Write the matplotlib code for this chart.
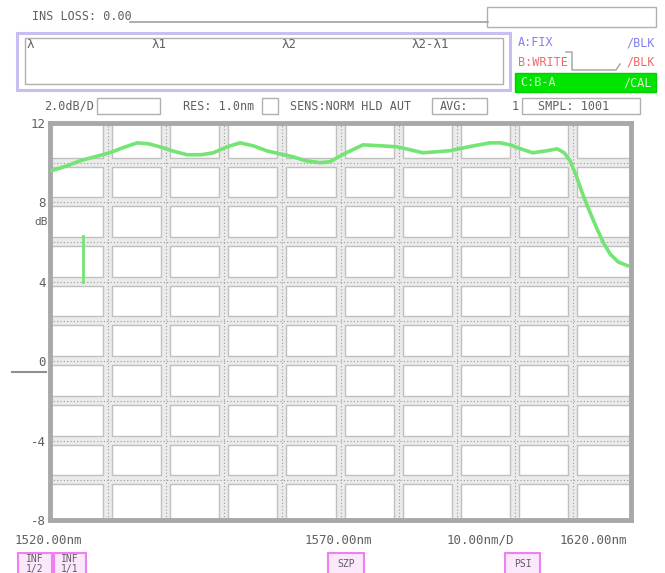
import matplotlib
matplotlib.use("Agg")
import matplotlib.pyplot as plt
from matplotlib.patches import Rectangle

# ---------------- data ----------------
wavelength_nm = [1520.3, 1523.0, 1525.2, 1530.3, 1532.5, 1535.0, 1537.0, 1538.9,
                 1541.0, 1543.6, 1546.0, 1548.1, 1550.5, 1552.7, 1555.0, 1557.3,
                 1559.5, 1561.8, 1564.0, 1566.5, 1568.2, 1571.0, 1573.9, 1577.0,
                 1579.7, 1582.0, 1584.2, 1586.5, 1588.8, 1592.0, 1595.7, 1597.5,
                 1599.2, 1601.0, 1603.1, 1605.5, 1607.3, 1608.5, 1609.5, 1610.5,
                 1611.7, 1612.8, 1614.1, 1615.2, 1616.4, 1617.8, 1619.5]
level_db = [9.6, 9.85, 10.1, 10.5, 10.75, 11.0, 10.95, 10.8,
            10.6, 10.4, 10.4, 10.5, 10.8, 11.0, 10.85, 10.6,
            10.45, 10.3, 10.1, 10.0, 10.05, 10.5, 10.9, 10.85,
            10.8, 10.65, 10.5, 10.55, 10.6, 10.8, 11.0, 11.0,
            10.9, 10.7, 10.5, 10.6, 10.7, 10.5, 10.1, 9.4,
            8.4, 7.6, 6.7, 6.0, 5.4, 5.0, 4.8]
marker_wl = 1525.7
marker_lo, marker_hi = 4.0, 6.3

x_min, x_max = 1520.0, 1620.0
y_min, y_max = -8.0, 12.0
ytick_vals = [12, 8, 4, 0, -4, -8]
ytick_labels = ["12", "8", "4", "0", "-4", "-8"]
x_labels = ["1520.00nm", "1570.00nm", "10.00nm/D", "1620.00nm"]

W, H = 665, 573
fig = plt.figure(figsize=(W / 100, H / 100), dpi=100)
fig.patch.set_facecolor("white")

FONT = "DejaVu Sans Mono"
TXT = "#606060"

# ---------------- main plot ----------------
L, R, T, B = 50, 631, 123, 520
ax = fig.add_axes([L / W, 1 - B / H, (R - L) / W, (B - T) / H])
ax.set_xlim(x_min, x_max)
ax.set_ylim(y_min, y_max)
ax.set_facecolor("white")

gx = [x_min + 10 * i for i in range(1, 10)]
gy = [y_min + 2 * i for i in range(1, 10)]
for v in gx:
    ax.axvline(v, color="#c0c0c0", lw=7.5, zorder=1)
    ax.axvline(v, color="#ebebeb", lw=5.5, zorder=1.1)
    ax.axvline(v, color="#9a9a9a", lw=0.8, ls=(0, (1, 2)), zorder=1.2)
for v in gy:
    ax.axhline(v, color="#c0c0c0", lw=7.5, zorder=1)
    ax.axhline(v, color="#ebebeb", lw=5.5, zorder=1.1)
    ax.axhline(v, color="#9a9a9a", lw=0.8, ls=(0, (1, 2)), zorder=1.2)

ax.plot(wavelength_nm, level_db, color="#74e474", lw=2.6, zorder=3,
        solid_capstyle="round", solid_joinstyle="round")
ax.plot([marker_wl, marker_wl], [marker_lo, marker_hi], color="#74e474",
        lw=2.0, zorder=3)

for s in ax.spines.values():
    s.set_color("#a8a8a8")
    s.set_linewidth(3.5)
ax.set_xticks([])
ax.set_yticks(ytick_vals)
ax.set_yticklabels(ytick_labels, fontfamily=FONT, fontsize=9, color=TXT)
ax.tick_params(axis="y", length=0, pad=3)

# ---------------- overlay in pixel coords ----------------
ov = fig.add_axes([0, 0, 1, 1], zorder=-1)
ov.set_xlim(0, W)
ov.set_ylim(H, 0)
ov.axis("off")
ov.patch.set_alpha(0)

ov2 = fig.add_axes([0, 0, 1, 1], zorder=5)
ov2.set_xlim(0, W)
ov2.set_ylim(H, 0)
ov2.axis("off")
ov2.patch.set_alpha(0)


def txt(x, y, s, color=TXT, size=9, ha="left", **kw):
    ov2.text(x, y, s, color=color, fontsize=size, ha=ha, va="center",
             fontfamily=FONT, **kw)


def box(x0, y0, x1, y1, ec="#b0b0b0", lw=1.0, fc="none", z=1):
    ov.add_patch(Rectangle((x0, y0), x1 - x0, y1 - y0, ec=ec, fc=fc, lw=lw,
                           zorder=z))


# y extra label
txt(34, 222, "dB", size=8)
ov2.plot([12, 46], [372, 372], color="#909090", lw=1.5)

# top line
txt(32, 17, "INS LOSS: 0.00", size=8.5)
ov.plot([130, 488], [22, 22], color="#a0a0a0", lw=1.2)
box(487, 7, 656, 27)

# marker panel
box(17, 33, 510, 90, ec="#c9bdf2", lw=2.2)
box(25, 38, 503, 84)
txt(27, 45, "λ", size=9)
txt(152, 45, "λ1", size=9)
txt(282, 45, "λ2", size=9)
txt(412, 45, "λ2-λ1", size=9)

# trace panel
txt(518, 43, "A:FIX", color="#8080f0", size=8.5)
txt(655, 43, "/BLK", color="#8080f0", size=8.5, ha="right")
txt(518, 62, "B:WRITE", color="#f06a6a", size=8.5)
txt(655, 62, "/BLK", color="#f06a6a", size=8.5, ha="right")
ov.plot([566, 572, 572, 616, 620], [52, 52, 70, 70, 64], color="#a0a0a0", lw=1)
box(515, 73, 656, 92, ec="#00d000", fc="#00e400", lw=1, z=2)
txt(520, 83, "C:B-A", color="#d8f8d8", size=8.5)
txt(652, 83, "/CAL", color="#d8f8d8", size=8.5, ha="right")

# settings row
txt(44, 106, "2.0dB/D", size=8.5)
box(97, 98, 160, 114)
txt(183, 106, "RES: 1.0nm", size=8.5)
box(262, 98, 278, 114)
txt(290, 106, "SENS:NORM HLD AUT", size=8.5)
box(432, 98, 487, 114)
txt(440, 106, "AVG:", size=8.5)
txt(512, 106, "1", size=8.5)
box(522, 98, 640, 114)
txt(538, 106, "SMPL: 1001", size=8.5)

# x labels
txt(15, 540, x_labels[0], size=9)
txt(305, 540, x_labels[1], size=9)
txt(447, 540, x_labels[2], size=9)
txt(560, 540, x_labels[3], size=9)

# pink soft keys
for (x0, x1, s) in [(18, 52, "INF\n1/2"), (54, 86, "INF\n1/1"),
                    (328, 364, "SZP"), (505, 540, "PSI")]:
    box(x0, 553, x1, 575, ec="#f080f0", fc="#fbe8fb", lw=1.5, z=2)
    ov2.text((x0 + x1) / 2, 564, s, color=TXT, fontsize=7, ha="center",
             va="center", fontfamily=FONT, linespacing=0.9)

fig.savefig("out.png", dpi=100, facecolor="white")
